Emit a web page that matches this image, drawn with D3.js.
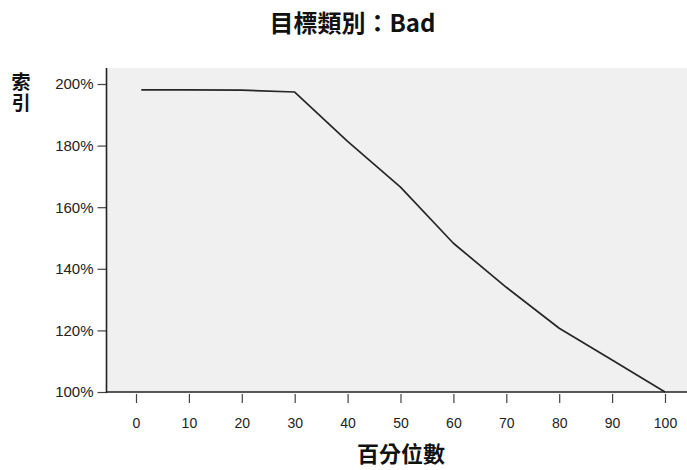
<!DOCTYPE html>
<html><head><meta charset="utf-8">
<script src="https://cdn.jsdelivr.net/npm/d3@7"></script>
<style>
html,body{margin:0;padding:0;background:#fff;}
svg{display:block;}
</style></head>
<body>
<script>
const percentiles = [1, 10, 20, 30, 40, 50, 60, 70, 80, 90, 100];
const indexValues = [198.1, 198.1, 198.0, 197.4, 181.4, 166.5, 148.3, 134.0, 120.7, 110.4, 100.0];
const xTicks = [0, 10, 20, 30, 40, 50, 60, 70, 80, 90, 100];
const yTicks = [100, 120, 140, 160, 180, 200];
const titleText = "目標類別：Bad";
const xTitle = "百分位數";
const yTitleChars = ["索", "引"];

(function () {
const W = 687, H = 470;
const pLeft = 106.5, pRight = 687, pTop = 68, pBottom = 392;
const fontLatin = "'Liberation Sans', Arial, sans-serif";
const fontCJK = "'Noto Sans CJK TC', 'Noto Sans CJK SC', sans-serif";

const svg = d3.select("body").append("svg").attr("width", W).attr("height", H);

const x = d3.scaleLinear().domain([0, 100]).range([136, 665]);
const y = d3.scaleLinear().domain([100, 200]).range([pBottom, 84]);

svg.append("rect").attr("x", pLeft).attr("y", pTop)
  .attr("width", pRight - pLeft).attr("height", pBottom - pTop).attr("fill", "#f0f0f0");

const line = d3.line().x((d, i) => x(percentiles[i])).y(d => y(d));
svg.append("path").datum(indexValues).attr("d", line)
  .attr("fill", "none").attr("stroke", "#262626").attr("stroke-width", 1.7)
  .attr("stroke-linejoin", "round");

const xAxis = svg.append("g").attr("transform", `translate(0,${pBottom})`)
  .call(d3.axisBottom(x).tickValues(xTicks).tickSize(11).tickPadding(15).tickSizeOuter(0));
xAxis.select(".domain").remove();
xAxis.selectAll(".tick line").attr("stroke", "#444").attr("stroke-width", 1.2).attr("y1", 2);
xAxis.selectAll(".tick text").attr("font-family", fontLatin).attr("font-size", 14).attr("fill", "#222");
svg.append("line").attr("x1", pLeft).attr("x2", pRight).attr("y1", pBottom).attr("y2", pBottom)
  .attr("stroke", "#222").attr("stroke-width", 1.6);

const yAxis = svg.append("g").attr("transform", `translate(${pLeft},0)`)
  .call(d3.axisLeft(y).tickValues(yTicks).tickSize(9).tickPadding(4).tickFormat(d => d + "%").tickSizeOuter(0));
yAxis.select(".domain").remove();
yAxis.selectAll(".tick line").attr("stroke", "#444").attr("stroke-width", 1.2);
yAxis.selectAll(".tick text").attr("font-family", fontLatin).attr("font-size", 15).attr("fill", "#222");
svg.append("line").attr("x1", pLeft).attr("x2", pLeft).attr("y1", pTop).attr("y2", pBottom + 1)
  .attr("stroke", "#222").attr("stroke-width", 1.6);

svg.append("text").attr("x", 352.5).attr("y", 31.5).attr("text-anchor", "middle")
  .attr("font-family", fontCJK).attr("font-weight", "bold").attr("font-size", 24).attr("fill", "#111")
  .text(titleText);

svg.append("text").attr("x", 401).attr("y", 462).attr("text-anchor", "middle")
  .attr("font-family", fontCJK).attr("font-weight", "bold").attr("font-size", 22).attr("fill", "#111")
  .text(xTitle);

svg.append("text").attr("x", 21).attr("y", 72)
  .attr("writing-mode", "vertical-rl").attr("text-orientation", "upright")
  .attr("letter-spacing", 2)
  .attr("font-family", fontCJK).attr("font-weight", "bold").attr("font-size", 19).attr("fill", "#111")
  .text(yTitleChars.join(""));
})();
</script>
</body></html>
